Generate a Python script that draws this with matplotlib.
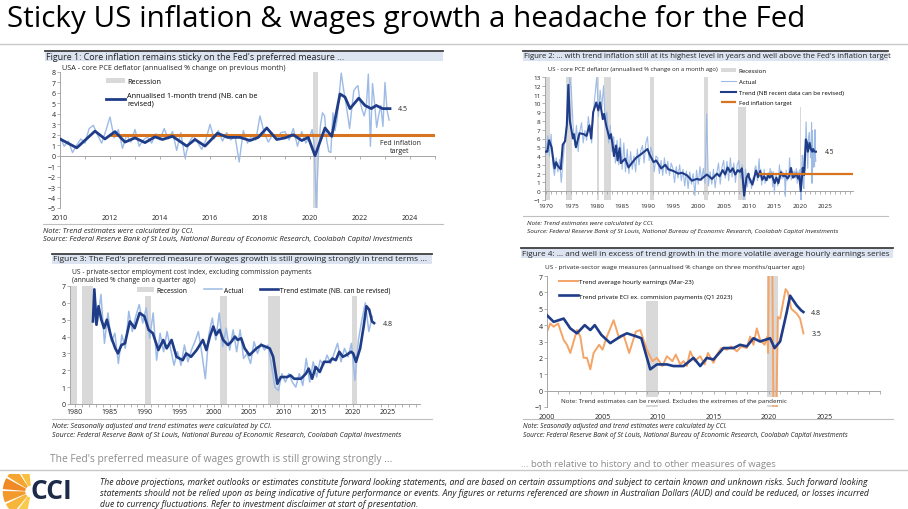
import numpy as np
import matplotlib.pyplot as plt
from matplotlib.patches import Rectangle, Wedge
from matplotlib.lines import Line2D

plt.rcParams['font.family'] = ['Open Sans', 'DejaVu Sans']

W, H = 908, 510

# ---------------- data ----------------
# Figure 1 - core PCE, annualised 1-month change (bi-monthly to 2019, monthly after)
c1_act_x = np.concatenate([2010 + np.arange(60) * 2 / 12, 2020 + np.arange(39) / 12])
c1_act = [1.8, 0.9, 1.4, 0.3, 1.0, 1.6,
          1.2, 2.6, 2.9, 2.0, 1.2, 2.4,
          3.7, 1.7, 2.5, 0.7, 2.0, 1.3,
          2.5, 0.9, 1.5, 1.8, 1.2, 2.1,
          1.5, 2.6, 1.6, 2.3, 0.5, 2.2,
          -0.2, 1.3, 1.9, 1.3, 0.6, 1.5,
          3.0, 1.6, 2.4, 1.4, 2.2, 1.5,
          1.9, -0.6, 2.4, 1.2, 1.9, 1.5,
          3.8, 2.2, 1.3, 2.0, 1.5, 2.2,
          2.3, 1.5, 2.6, 0.9, 2.3, 1.2,
          1.9, 2.5, 1.1, -5.0, 0.0, 2.9, 4.1, 3.8, 1.5, 0.4, 0.3, 4.1,
          2.4, 3.5, 5.8, 7.9, 6.5, 5.3, 4.0, 2.6, 4.4, 6.2, 6.5, 6.7,
          5.2, 4.4, 3.8, 4.6, 7.8, 0.9, 6.9, 5.0, 2.7, 3.9, 4.8, 2.8,
          7.0, 4.3, 3.4]
c1_trend_x = [2010.0, 2010.67, 2011.4, 2011.8, 2012.2, 2012.6, 2013.0, 2013.4, 2013.8, 2014.1,
              2014.5, 2014.87, 2015.07, 2015.4, 2015.8, 2016.3, 2016.7, 2017.2, 2017.6, 2017.93,
              2018.27, 2018.67, 2019.0, 2019.33, 2019.67, 2019.93, 2020.2, 2020.6, 2020.87, 2021.2,
              2021.4, 2021.6, 2021.95, 2022.2, 2022.45, 2022.65, 2022.9, 2023.2]
c1_trend = [1.6, 0.75, 2.35, 1.6, 2.3, 1.3, 1.7, 1.25, 1.8, 1.55,
            1.85, 1.25, 0.92, 1.55, 0.92, 2.15, 1.75, 1.75, 1.45, 1.75,
            2.65, 1.55, 1.7, 2.0, 1.45, 1.75, 0.0, 2.65, 1.85, 5.9,
            5.6, 4.5, 5.5, 4.8, 4.5, 4.8, 4.5, 4.5]
fed_target = 2.0
target_start = 2012.0
rec1 = [(2020.1, 2020.33)]

# Figure 2 - core PCE since 1970 (every 4 months to 2009, then the figure 1 series)
c2_act_early = [4.2, 6.3, 4.0, 6.5, 3.0, 1.8, 3.8, 2.2, 3.6, 1.0, 3.2, 5.5,
                7.2, 8.5, 13.0, 11.5, 7.5, 5.2, 7.5, 4.5, 6.8, 7.8, 5.5, 6.9,
                5.8, 8.5, 7.0, 5.5, 9.0, 11.0, 13.0, 8.5, 11.5, 9.5, 12.0, 7.8,
                9.0, 5.5, 7.5, 4.5, 6.2, 3.2, 5.8, 3.0, 6.0, 2.5, 5.5, 2.2,
                4.8, 2.0, 4.5, 2.5, 4.0, 2.2, 4.8, 3.0, 4.6, 5.2, 3.2, 5.5,
                6.2, 3.5, 5.0, 4.2, 2.2, 4.0, 3.8, 2.0, 3.5, 1.8, 3.8, 2.0,
                3.4, 1.8, 3.2, 2.6, 1.0, 2.8, 1.5, 3.0, 1.2, 2.5, 0.6, 2.3,
                0.3, 2.2, 0.8, 2.0, -0.5, 2.4, 0.8, 2.8, 1.2, 2.6, 0.9, 8.8,
                0.6, 2.2, 0.8, 2.5, 0.4, 2.1, 3.2, 0.8, 2.7, 3.5, 1.5, 3.4,
                1.2, 3.8, 1.6, 3.2, 1.0, 3.0, 3.5, 1.5, 3.0, -1.0, 2.5, 0.5]
c2_act_early_x = 1970 + np.arange(120) / 3
c2_trend_early_x = [1970.0, 1970.26, 1970.6, 1971.1, 1971.45, 1971.7, 1972.0, 1972.3, 1972.6, 1972.9,
                    1973.3, 1973.75, 1974.1, 1974.4, 1974.7, 1975.3, 1975.5, 1975.9, 1976.6, 1977.4,
                    1978.0, 1978.55, 1978.9, 1979.3, 1979.9, 1980.3, 1980.65, 1981.2, 1981.45, 1981.85,
                    1982.5, 1982.8, 1983.15, 1983.4, 1983.8, 1984.1, 1984.5, 1984.75, 1985.6, 1986.25,
                    1986.9, 1987.75, 1988.7, 1990.0, 1990.4, 1991.2, 1991.7, 1992.7, 1993.5, 1994.1,
                    1995.1, 1996.1, 1996.8, 1997.8, 1998.75, 1999.7, 2000.4, 2001.7, 2002.7, 2003.7,
                    2004.2, 2004.8, 2005.3, 2005.8, 2006.3, 2006.8, 2007.3, 2007.8, 2008.2, 2008.6,
                    2009.05, 2009.5, 2009.9]
c2_trend_early = [4.5, 4.5, 5.8, 5.0, 3.5, 2.6, 3.3, 2.9, 2.7, 2.5,
                  5.3, 5.7, 7.5, 12.1, 8.0, 6.0, 6.5, 5.0, 6.6, 6.5,
                  6.3, 7.5, 6.0, 9.0, 10.1, 9.2, 10.1, 8.2, 8.8, 7.5,
                  6.0, 6.5, 5.2, 4.0, 5.2, 3.5, 4.9, 3.2, 3.7, 2.7,
                  3.2, 3.8, 4.2, 4.8, 4.2, 3.3, 3.5, 2.6, 3.0, 2.5,
                  2.3, 2.0, 2.1, 1.8, 1.2, 1.4, 1.3, 1.9, 1.4, 2.0,
                  1.7, 2.4, 1.9, 2.7, 2.2, 2.6, 1.9, 2.4, 2.2, 2.6,
                  -0.5, 1.5, 2.0]
rec2 = [(1969.92, 1970.87), (1973.87, 1975.2), (1980.0, 1980.5), (1981.5, 1982.87),
        (1990.5, 1991.2), (2001.2, 2001.87), (2007.92, 2009.5), (2020.1, 2020.33)]

# Figure 3 - private ECI ex commissions, annualised q/q
c3_act_x = 1982.75 + np.arange(81) * 0.5
c3_act = [6.8, 4.9, 6.5, 3.6, 5.4, 3.7, 4.2, 2.4, 4.1, 3.3,
          5.5, 4.3, 5.2, 5.9, 4.8, 5.7, 3.9, 5.4, 2.6, 4.2,
          3.1, 4.3, 3.3, 2.3, 3.1, 2.3, 3.5, 2.5, 3.2, 3.7,
          4.3, 3.0, 1.5, 4.1, 5.1, 3.8, 5.4, 3.4, 4.5, 3.2,
          4.4, 3.1, 4.4, 2.7, 3.0, 2.4, 3.7, 3.0, 3.6, 3.2,
          3.5, 2.3, 1.0, 0.8, 1.8, 1.3, 1.8, 1.3, 1.0, 1.8,
          1.1, 2.7, 1.3, 2.5, 1.6, 2.6, 2.3, 2.9, 2.4, 3.0,
          3.6, 2.5, 3.3, 2.8, 3.6, 1.4, 3.8, 5.0, 6.0, 4.3,
          5.2]
c3_trend_x = [1982.6, 1982.8, 1983.1, 1983.4, 1983.8, 1984.2, 1984.6, 1985.2, 1985.8, 1986.2,
              1986.7, 1987.2, 1987.9, 1988.6, 1989.3, 1990.0, 1990.6, 1991.2, 1992.0, 1992.7,
              1993.2, 1993.9, 1994.6, 1995.5, 1996.0, 1996.7, 1997.5, 1998.4, 1998.9, 1999.4,
              1999.9, 2000.3, 2000.8, 2001.3, 2002.0, 2002.5, 2003.0, 2003.4, 2003.9, 2004.4,
              2005.1, 2006.1, 2006.8, 2008.0, 2008.5, 2009.1, 2009.6, 2010.5, 2011.0, 2011.5,
              2012.5, 2013.2, 2013.6, 2014.1, 2014.6, 2015.2, 2015.8, 2016.6, 2017.0, 2017.5,
              2018.0, 2018.5, 2019.0, 2019.7, 2020.0, 2020.4, 2021.0, 2021.5, 2021.9, 2022.3,
              2022.7, 2023.0]
c3_trend = [4.9, 6.8, 4.7, 5.8, 5.0, 4.5, 5.0, 4.0, 3.3, 3.0,
            3.5, 3.6, 4.9, 4.5, 5.4, 5.2, 4.4, 4.2, 3.2, 3.8,
            3.3, 3.8, 2.8, 2.6, 3.0, 2.8, 3.2, 3.8, 3.2, 4.0,
            4.6, 4.1, 4.4, 3.8, 3.5, 3.7, 4.0, 3.8, 3.9, 3.3,
            2.9, 3.3, 3.5, 3.3, 2.8, 1.2, 1.6, 1.6, 1.7, 1.5,
            1.5, 1.8, 2.1, 1.5, 2.2, 1.9, 2.5, 2.5, 2.7, 2.6,
            3.1, 2.8, 2.9, 3.1, 3.0, 2.5, 3.3, 4.6, 5.8, 5.6,
            4.9, 4.8]
rec3 = [(1979.5, 1980.3), (1981.0, 1982.6), (1990.1, 1991.0), (2000.8, 2001.8),
        (2007.8, 2009.5), (2019.8, 2020.5)]

# Figure 4 - average hourly earnings vs ECI trends
c4_ahe_x = [2000.0, 2000.3, 2000.6, 2001.0, 2001.5, 2001.8, 2002.1, 2002.4, 2002.7, 2003.0,
            2003.3, 2003.6, 2003.9, 2004.2, 2004.7, 2005.0, 2005.4, 2006.0, 2006.5, 2006.9,
            2007.4, 2008.0, 2008.4, 2009.0, 2009.5, 2009.9, 2010.4, 2010.8, 2011.3, 2011.6,
            2012.0, 2012.3, 2012.6, 2012.9, 2013.3, 2013.8, 2014.2, 2014.5, 2015.0, 2015.3,
            2015.7, 2016.2, 2016.6, 2017.1, 2017.5, 2018.0, 2018.3, 2018.6, 2018.9, 2019.2,
            2019.6, 2019.85, 2019.92, 2019.97, 2020.3, 2020.4, 2020.65, 2020.8, 2021.0, 2021.3,
            2021.5, 2021.7, 2022.0, 2022.5, 2022.8, 2023.1]
c4_ahe = [3.6, 4.1, 3.9, 4.1, 3.1, 2.8, 2.3, 3.0, 3.7, 3.3,
          2.0, 2.0, 1.3, 2.3, 2.8, 2.5, 3.3, 4.3, 3.2, 3.4,
          2.3, 3.6, 3.7, 2.5, 1.8, 2.0, 1.5, 2.1, 1.8, 2.2,
          1.6, 1.8, 1.5, 2.4, 1.8, 2.1, 1.6, 2.3, 1.7, 2.2,
          2.6, 2.5, 2.7, 2.4, 2.7, 2.6, 3.3, 2.8, 3.8, 3.1,
          2.8, 3.3, 2.3, 7.5, 7.5, -1.5, -1.5, 4.5, 4.4, 5.5,
          6.2, 6.0, 5.0, 4.7, 4.4, 3.5]
c4_eci_x = [2000.0, 2000.6, 2001.5, 2002.1, 2002.7, 2003.4, 2003.9, 2004.3, 2004.9, 2005.7,
            2006.6, 2007.2, 2008.1, 2008.5, 2009.3, 2009.9, 2010.8, 2011.4, 2012.3, 2013.2,
            2013.8, 2014.4, 2015.0, 2015.9, 2016.8, 2017.4, 2018.0, 2018.6, 2019.2, 2020.1,
            2020.5, 2021.0, 2021.6, 2021.9, 2022.5, 2022.9, 2023.1]
c4_eci = [4.6, 4.2, 4.4, 3.8, 3.5, 4.0, 3.7, 4.0, 3.4, 2.9,
          3.3, 3.5, 3.3, 3.2, 1.3, 1.6, 1.6, 1.5, 1.5, 2.0,
          1.5, 2.0, 1.9, 2.6, 2.6, 2.8, 2.7, 3.2, 3.0, 3.2,
          2.6, 3.0, 4.8, 5.8, 5.2, 4.9, 4.8]
rec4 = [(2008.9, 2010.0), (2019.8, 2020.8)]

# ---------------- styling ----------------
DARK = '#1f3c88'
LIGHT = '#9dbbe6'
TARGET = '#d8731f'
AHE = '#f4a466'
REC = '#d9d9d9'
AXIS = '#a6a6a6'
TXT = '#222222'

fig = plt.figure(figsize=(W / 100, H / 100), dpi=100)
fig.patch.set_facecolor('white')


def px_ax(l, t, r, b):
    return fig.add_axes([l / W, 1 - b / H, (r - l) / W, (b - t) / H])


def ftext(x, y, s, **kw):
    kw.setdefault('va', 'center')
    kw.setdefault('color', TXT)
    return fig.text(x / W, 1 - y / H, s, **kw)


def hline(x0, x1, y, color, lw):
    fig.add_artist(Line2D([x0 / W, x1 / W], [1 - y / H] * 2, color=color, lw=lw,
                          transform=fig.transFigure))


def title_bar(x0, x1, y, s, size):
    hline(x0, x1, y - 5.5, '#404040', 1.3)
    fig.add_artist(Rectangle((x0 / W, 1 - (y + 5) / H), (x1 - x0) / W, 10 / H,
                             transform=fig.transFigure, facecolor='#dce4f2', edgecolor='none'))
    ftext(x0 + 1, y, s, fontsize=size)


def style_axes(ax, xlim, ylim, xticks, yticks, minor, pad, size=5):
    ax.set_xlim(*xlim)
    ax.set_ylim(*ylim)
    ax.set_xticks(xticks)
    ax.set_yticks(yticks)
    ax.set_facecolor('none')
    for s in ('top', 'right', 'bottom'):
        ax.spines[s].set_visible(False)
    ax.spines['left'].set_color(AXIS)
    ax.spines['left'].set_linewidth(0.7)
    ax.tick_params(axis='x', length=0, labelsize=size, pad=pad, labelcolor=TXT)
    ax.tick_params(axis='y', length=2, width=0.6, color=AXIS, labelsize=size, pad=1.2, labelcolor=TXT)
    frac = (0 - ylim[0]) / (ylim[1] - ylim[0])
    sec = ax.secondary_xaxis(frac)
    sec.set_xticks(minor)
    sec.xaxis.set_ticklabels([])
    sec.tick_params(length=2, width=0.6, color=AXIS)
    for sp in sec.spines.values():
        sp.set_color(AXIS)
        sp.set_linewidth(0.7)


def shade(ax, spans):
    for i, (a, b) in enumerate(spans):
        ax.axvspan(a, b, color=REC, lw=0, zorder=0, label='Recession' if i == 0 else None)


# ---------------- slide frame ----------------
ftext(7, 20, 'Sticky US inflation & wages growth a headache for the Fed', fontsize=21.3, color='black')
hline(0, W, 45, '#c8c8c8', 1.0)
hline(0, W, 471, '#c8c8c8', 1.0)

# ---------------- figure 1 ----------------
title_bar(45, 443, 57, "Figure 1: Core inflation remains sticky on the Fed's preferred measure ...", 6.4)
ftext(62, 68, 'USA - core PCE deflator (annualised % change on previous month)', fontsize=5.2)
ax1 = px_ax(60, 73, 435, 209)
shade(ax1, rec1)
ax1.plot(c1_act_x, c1_act, color=LIGHT, lw=1.0, zorder=2)
ax1.hlines(fed_target, target_start, 2025, color=TARGET, lw=2.2, zorder=3)
ax1.plot(c1_trend_x, c1_trend, color=DARK, lw=2.0, zorder=4,
         label='Annualised 1-month trend (NB. can be\nrevised)')
style_axes(ax1, (2010, 2025), (-5, 8), range(2010, 2025, 2), range(-5, 9), range(2010, 2026), 4)
ax1.legend(loc='upper left', bbox_to_anchor=(0.115, 0.98), frameon=False, fontsize=5.2,
           handlelength=2.6, handletextpad=0.3, labelspacing=0.9, borderaxespad=0)
ax1.text(c1_trend_x[-1] + 0.3, c1_trend[-1], '4.5', fontsize=5, va='center', color=TXT)
ax1.text(2023.6, 0.9, 'Fed inflation\ntarget', fontsize=5, ha='center', va='center', color=TXT,
         linespacing=1.2)
hline(43, 443, 225, '#bfbfbf', 0.8)
ftext(43, 232, 'Note: Trend estimates were calculated by CCI.', fontsize=5.4, style='italic')
ftext(43, 240, 'Source: Federal Reserve Bank of St Louis, National Bureau of Economic Research, '
      'Coolabah Capital Investments', fontsize=5.4, style='italic')

# ---------------- figure 2 ----------------
title_bar(523, 888, 57, "Figure 2: ... with trend inflation still at its highest level in years and well "
          "above the Fed's inflation target", 5.6)
ftext(548, 69, 'US - core PCE deflator (annualised % change on a month ago)', fontsize=4.3)
ax2 = px_ax(545, 78, 853, 201)
shade(ax2, rec2)
ax2.plot(np.concatenate([c2_act_early_x, c1_act_x]), c2_act_early + c1_act,
         color=LIGHT, lw=0.8, zorder=2, label='Actual')
ax2.plot(c2_trend_early_x + c1_trend_x, c2_trend_early + c1_trend, color=DARK, lw=1.5, zorder=3,
         label='Trend (NB recent data can be revised)')
ax2.hlines(fed_target, target_start, 2030.5, color=TARGET, lw=1.6, zorder=4,
           label='Fed inflation target')
style_axes(ax2, (1969.8, 2030.5), (-1, 13), range(1970, 2030, 5), range(-1, 14),
           range(1970, 2031), 2.5, size=4.6)
ax2.legend(loc='upper left', bbox_to_anchor=(0.565, 1.09), frameon=True, facecolor='white',
           edgecolor='none', framealpha=1, fontsize=4.3, handlelength=2.6, handletextpad=0.4,
           labelspacing=0.95, borderaxespad=0, borderpad=0.3)
ax2.text(2025.0, c1_trend[-1], '4.5', fontsize=4.8, va='center', color=TXT)
hline(523, 888, 217, '#bfbfbf', 0.8)
ftext(527, 223, 'Note: Trend estimates were calculated by CCI.', fontsize=4.6, style='italic')
ftext(527, 232, 'Source: Federal Reserve Bank of St Louis, National Bureau of Economic Research, '
      'Coolabah Capital Investments', fontsize=4.6, style='italic')

# ---------------- figure 3 ----------------
title_bar(52, 432, 260, "Figure 3: The Fed's preferred measure of wages growth is still growing strongly "
          "in trend terms ...", 6.0)
ftext(72, 272, 'US - private-sector employment cost index, excluding commission payments', fontsize=4.9)
ftext(72, 280, '(annualised % change on a quarter ago)', fontsize=4.9)
ax3 = px_ax(70, 287, 420, 405)
shade(ax3, rec3)
ax3.plot(c3_act_x, c3_act, color=LIGHT, lw=1.1, zorder=2, label='Actual')
ax3.plot(c3_trend_x, c3_trend, color=DARK, lw=1.9, zorder=3, label='Trend estimate (NB. can be revised)')
style_axes(ax3, (1979.3, 2029.6), (0, 7), range(1980, 2030, 5), range(0, 8), range(1980, 2030), 3)
ax3.legend(loc='upper left', bbox_to_anchor=(0.185, 1.01), ncol=3, frameon=True, facecolor='white',
           edgecolor='none', framealpha=1, fontsize=4.8, handlelength=2.6, handletextpad=0.3,
           columnspacing=2.6, borderaxespad=0, borderpad=0.3)
ax3.text(2024.3, c3_trend[-1], '4.8', fontsize=5, va='center', color=TXT)
hline(52, 432, 420, '#bfbfbf', 0.8)
ftext(52, 427, 'Note: Seasonally adjusted and trend estimates were calculated by CCI.',
      fontsize=5.1, style='italic')
ftext(52, 436, 'Source: Federal Reserve Bank of St Louis, National Bureau of Economic Research, '
      'Coolabah Capital Investments', fontsize=5.1, style='italic')

# ---------------- figure 4 ----------------
title_bar(521, 893, 254, 'Figure 4: ... and well in excess of trend growth in the more volatile average '
          'hourly earnings series', 5.9)
ftext(545, 268, 'US - private-sector wage measures (annualised % change on three months/quarter ago)',
      fontsize=4.6)
ax4 = px_ax(547, 277, 880, 408)
shade(ax4, rec4)
ax4.plot(c4_ahe_x, c4_ahe, color=AHE, lw=1.4, zorder=2, label='Trend average hourly earnings (Mar-23)')
ax4.plot(c4_eci_x, c4_eci, color=DARK, lw=1.9, zorder=3,
         label='Trend private ECI ex. commision payments (Q1 2023)')
style_axes(ax4, (2000, 2030), (-1, 7), range(2000, 2030, 5), range(-1, 8), range(2000, 2031), 4)
handles, labels = ax4.get_legend_handles_labels()
ax4.legend(handles[1:], labels[1:], loc='upper left', bbox_to_anchor=(0.03, 1.0), frameon=True,
           facecolor='white', edgecolor='none', framealpha=1, fontsize=4.5, handlelength=3.0,
           handletextpad=0.2, labelspacing=1.5, borderaxespad=0, borderpad=0.4)
ax4.text(2023.8, c4_eci[-1], '4.8', fontsize=5, va='center', color=TXT)
ax4.text(2023.8, c4_ahe[-1], '3.5', fontsize=5, va='center', color=TXT)
ax4.text(2001.3, -0.62, 'Note: Trend estimates can be revised. Excludes the extremes of the pandemic',
         fontsize=4.5, va='center', color=TXT, zorder=5,
         bbox=dict(facecolor='white', edgecolor='none', pad=1.2))
hline(523, 893, 420, '#bfbfbf', 0.8)
ftext(523, 427, 'Note: Seasonally adjusted and trend estimates were calculated by CCI.',
      fontsize=4.8, style='italic')
ftext(523, 436, 'Source: Federal Reserve Bank of St Louis, National Bureau of Economic Research, '
      'Coolabah Capital Investments', fontsize=4.8, style='italic')

# ---------------- captions and footer ----------------
ftext(50, 460, "The Fed's preferred measure of wages growth is still growing strongly ...",
      fontsize=7.35, color='#8c8c8c')
ftext(521, 465, '... both relative to history and to other measures of wages', fontsize=6.8,
      color='#8c8c8c')

logo = px_ax(2, 475, 32, 510)
logo.set_xlim(-1, 1)
logo.set_ylim(-1.2, 1.2)
logo.axis('off')
petal_cols = ['#f8c140', '#f5a530', '#ef8a26', '#f39a2c', '#f7b53a', '#f9cb4c']
for i, c in enumerate(petal_cols):
    a0 = 95 + i * 28
    logo.add_patch(Wedge((0.95, 0), 1.9, a0, a0 + 24, width=1.5, facecolor=c, edgecolor='none'))
ftext(31, 492, 'CCI', fontsize=19, fontweight='bold', color='#1c2b4a')

disclaimer = [
    'The above projections, market outlooks or estimates constitute forward looking statements, and are based '
    'on certain assumptions and subject to certain known and unknown risks. Such forward looking',
    'statements should not be relied upon as being indicative of future performance or events. Any figures or '
    'returns referenced are shown in Australian Dollars (AUD) and could be reduced, or losses incurred',
    'due to currency fluctuations. Refer to investment disclaimer at start of presentation.',
]
for i, line in enumerate(disclaimer):
    ftext(100, 483 + i * 11, line, fontsize=6.25, style='italic')

fig.savefig('out.png', dpi=100)
